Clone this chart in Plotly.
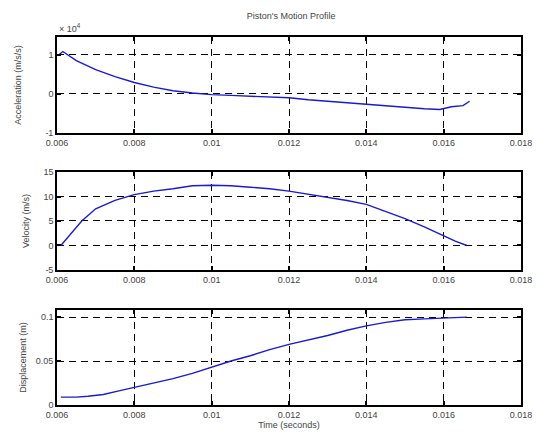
import plotly.graph_objects as go
from plotly.subplots import make_subplots

# ---- data ----
time_acc = [0.00603, 0.00615, 0.0065, 0.0070, 0.0075, 0.0080, 0.0085, 0.0090, 0.0095, 0.0100,
            0.0105, 0.0110, 0.0115, 0.0120, 0.0125, 0.0130, 0.0135, 0.0140, 0.0145, 0.0150,
            0.0155, 0.0159, 0.0162, 0.0165, 0.01667]
accel = [0.98, 1.08, 0.85, 0.62, 0.44, 0.29, 0.17, 0.08, 0.02, -0.02,
         -0.04, -0.06, -0.08, -0.10, -0.15, -0.19, -0.23, -0.27, -0.31, -0.35,
         -0.38, -0.40, -0.33, -0.30, -0.19]

time_vel = [0.0061, 0.0064, 0.00664, 0.0070, 0.0075, 0.0080, 0.0085, 0.0090, 0.0095, 0.0100,
            0.0105, 0.0110, 0.0115, 0.0120, 0.0125, 0.0130, 0.0135, 0.0140, 0.0145, 0.0150,
            0.0155, 0.0160, 0.0163, 0.0166]
velocity = [0.0, 2.8, 5.0, 7.5, 9.2, 10.4, 11.1, 11.6, 12.2, 12.3,
            12.2, 11.9, 11.6, 11.1, 10.5, 9.8, 9.2, 8.4, 7.0, 5.5,
            3.8, 2.0, 0.9, 0.0]

time_disp = [0.0061, 0.0065, 0.0068, 0.0072, 0.0076, 0.0080, 0.0085, 0.0090, 0.0095, 0.0100,
             0.0105, 0.0110, 0.0115, 0.0120, 0.0125, 0.0130, 0.0135, 0.0140, 0.0145, 0.0150,
             0.0155, 0.0160, 0.0166]
displacement = [0.009, 0.009, 0.010, 0.012, 0.016, 0.020, 0.025, 0.030, 0.036, 0.043,
                0.050, 0.056, 0.063, 0.069, 0.074, 0.079, 0.085, 0.090, 0.094, 0.097,
                0.098, 0.099, 0.100]

x_ticks = [0.006, 0.008, 0.010, 0.012, 0.014, 0.016, 0.018]
x_tick_labels = ["0.006", "0.008", "0.01", "0.012", "0.014", "0.016", "0.018"]
acc_ticks = [-1, 0, 1]
vel_ticks = [-5, 0, 5, 10, 15]
disp_ticks = [0, 0.05, 0.1]
disp_tick_labels = ["0", "0.05", "0.1"]

title = "Piston's Motion Profile"
y_titles = ["Acceleration (m/s/s)", "Velocity (m/s)", "Displacement (m)"]
x_title = "Time (seconds)"

# ---- figure ----
fig = make_subplots(rows=3, cols=1, vertical_spacing=0.1)
line_style = dict(color="#1a1ad0", width=1.4)
fig.add_trace(go.Scatter(x=time_acc, y=accel, mode="lines", line=line_style, showlegend=False), 1, 1)
fig.add_trace(go.Scatter(x=time_vel, y=velocity, mode="lines", line=line_style, showlegend=False), 2, 1)
fig.add_trace(go.Scatter(x=time_disp, y=displacement, mode="lines", line=line_style, showlegend=False), 3, 1)

font = dict(family="Liberation Sans, Arial, sans-serif", size=9, color="#444")
common_ax = dict(showline=True, linecolor="black", linewidth=1.6, mirror="ticks",
                 ticks="inside", ticklen=4, tickcolor="black", tickwidth=1.6,
                 showgrid=True, gridcolor="black", griddash="7px,5px", gridwidth=1.3,
                 zeroline=False, tickfont=font)

domains = [[0.739, 1.0], [0.367, 0.633], [0.0, 0.258]]
yranges = [[-1, 1.45], [-5, 15], [0, 0.108]]
ytickvals = [acc_ticks, vel_ticks, disp_ticks]
yticktexts = [[str(v) for v in acc_ticks], [str(v) for v in vel_ticks], disp_tick_labels]
y_standoffs = [22, 12, 8]

for i in range(3):
    fig.update_xaxes(row=i + 1, col=1, range=[0.006, 0.018], tickvals=x_ticks,
                     ticktext=x_tick_labels, ticklabelstandoff=0, **common_ax)
    fig.update_yaxes(row=i + 1, col=1, range=yranges[i], domain=domains[i],
                     tickvals=ytickvals[i], ticktext=yticktexts[i], ticklabelstandoff=0,
                     title=dict(text=y_titles[i], font=font, standoff=y_standoffs[i]), **common_ax)

fig.update_xaxes(row=3, col=1, title=dict(text=x_title, font=font, standoff=2))

fig.update_layout(
    width=544, height=443,
    margin=dict(l=57, r=19, t=37, b=38),
    paper_bgcolor="white", plot_bgcolor="white",
    title=dict(text=title, x=0.535, xanchor="center", y=0.965, yanchor="middle", font=font),
    font=font,
    annotations=[dict(text="× 10<sup>4</sup>", xref="paper", yref="paper",
                      x=0.0, y=1.0, xanchor="left", yanchor="bottom", yshift=1,
                      showarrow=False, font=font)],
)

fig.write_html("out.html")
